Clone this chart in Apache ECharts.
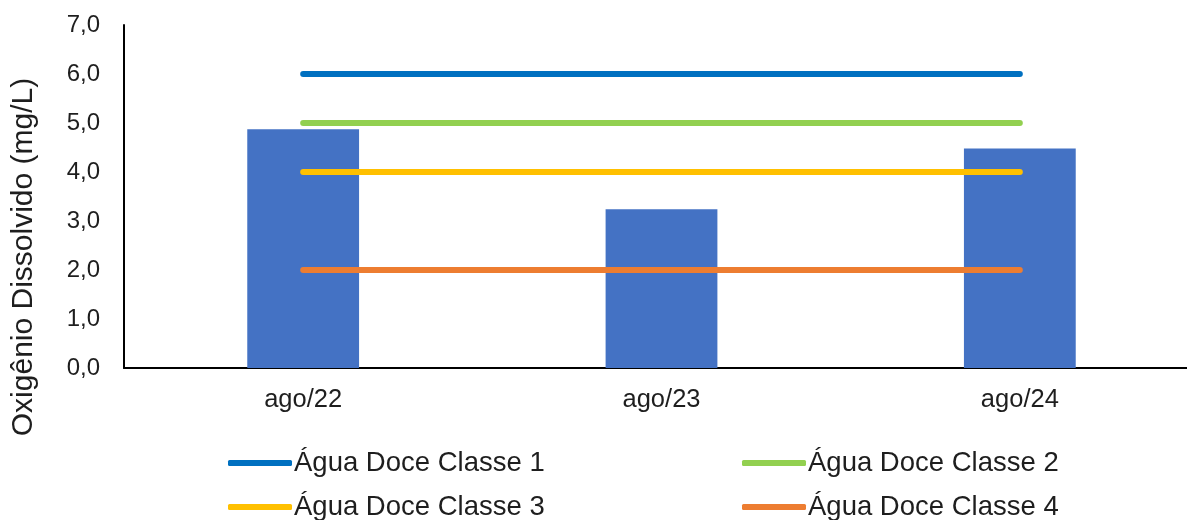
<!DOCTYPE html>
<html>
<head>
<meta charset="utf-8">
<script src="https://cdn.jsdelivr.net/npm/echarts@6/dist/echarts.min.js"></script>
<style>
  html, body { margin: 0; padding: 0; background: #fff; overflow: hidden; width: 1187px; height: 520px; }
  #chart { width: 1199px; height: 520px; }
</style>
</head>
<body>
<div id="chart"></div>
<script>
const categories = ['ago/22', 'ago/23', 'ago/24'];
const oxygenValues = [4.87, 3.24, 4.48];
const classe1 = [6, 6, 6];
const classe2 = [5, 5, 5];
const classe3 = [4, 4, 4];
const classe4 = [2, 2, 2];
const yTickLabels = ['0,0', '1,0', '2,0', '3,0', '4,0', '5,0', '6,0', '7,0'];
const lineNames = ['Água Doce Classe 1', 'Água Doce Classe 2', 'Água Doce Classe 3', 'Água Doce Classe 4'];
const yTitle = 'Oxigênio Dissolvido (mg/L)';

const FONT = '"Liberation Sans", Arial, sans-serif';
const TXT = '#1e1e1e';
const lineColors = ['#0070C0', '#92D050', '#FFC000', '#ED7D31'];
const lineData = [classe1, classe2, classe3, classe4];

const chart = echarts.init(document.getElementById('chart'), null, { renderer: 'canvas' });

function lineSeries(i) {
  return {
    name: lineNames[i],
    type: 'line',
    data: lineData[i],
    symbol: 'none',
    silent: true,
    lineStyle: { color: lineColors[i], width: 6, cap: 'round' },
    itemStyle: { color: lineColors[i] },
    z: 3
  };
}

function legendAt(i, left, top) {
  return {
    data: [{ name: lineNames[i], icon: 'roundRect' }],
    left: left,
    top: top,
    padding: 0,
    itemWidth: 64,
    itemHeight: 6,
    selectedMode: false,
    textStyle: { fontFamily: FONT, fontSize: 27.5, color: TXT, lineHeight: 28, padding: [0, 0, 0, -3] }
  };
}

chart.setOption({
  animation: false,
  backgroundColor: '#ffffff',
  grid: { left: 124, right: 0, top: 25, bottom: 152, containLabel: false },
  xAxis: {
    type: 'category',
    data: categories,
    boundaryGap: true,
    axisLine: { show: true, lineStyle: { color: '#000', width: 2 } },
    axisTick: { show: false },
    axisLabel: { margin: 19, fontFamily: FONT, fontSize: 25.5, color: TXT }
  },
  yAxis: {
    type: 'value',
    min: 0,
    max: 7,
    interval: 1,
    axisLine: { show: true, lineStyle: { color: '#000', width: 2 } },
    axisTick: { show: false },
    splitLine: { show: false },
    axisLabel: {
      margin: 24,
      fontFamily: FONT,
      fontSize: 24,
      color: TXT,
      formatter: function (v) { return yTickLabels[Math.round(v)]; }
    }
  },
  legend: [
    legendAt(0, 228, 449),
    legendAt(1, 742, 449),
    legendAt(2, 228, 493),
    legendAt(3, 742, 493)
  ],
  graphic: [{
    type: 'text',
    x: 24,
    y: 257,
    rotation: Math.PI / 2,
    style: {
      text: yTitle,
      fontFamily: FONT,
      fontSize: 30,
      fill: TXT,
      align: 'center',
      verticalAlign: 'middle'
    }
  }],
  series: [
    {
      name: 'OD',
      type: 'bar',
      data: oxygenValues,
      barWidth: '31.2%',
      itemStyle: { color: '#4472C4' },
      z: 2
    },
    lineSeries(0),
    lineSeries(1),
    lineSeries(2),
    lineSeries(3)
  ]
});
</script>
</body>
</html>
